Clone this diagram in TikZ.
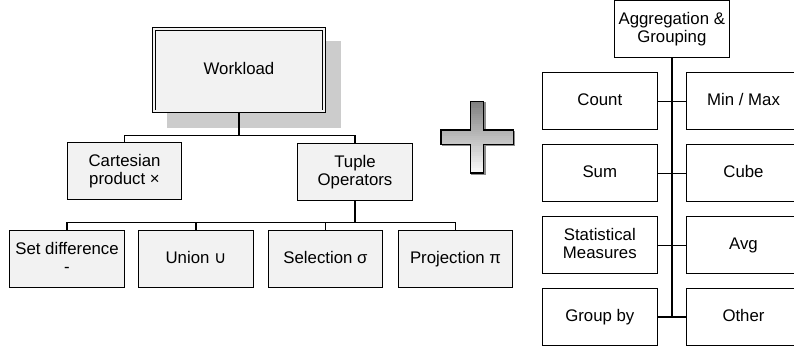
\documentclass[tikz,border=0pt]{standalone}
\usepackage{fontspec}
\setmainfont{Liberation Sans}
\newfontfamily\symfont{DejaVu Sans}

\tikzset{
  opbox/.style={draw, line width=0.9pt, fill=gray!10, minimum width=114.6pt,
    minimum height=56.8pt, align=center, inner sep=2pt, text depth=3.5pt},
  aggbox/.style={draw, line width=0.9pt, fill=white, minimum width=114.6pt,
    minimum height=56.8pt, align=center, inner sep=2pt, text depth=3.5pt},
  bus/.style={line width=1.1pt},
  trunk/.style={line width=1.8pt},
}
\def\pluspath{(470.3,101.7) -- (483.7,101.7) -- (483.7,130) -- (513.3,130)
  -- (513.3,144.3) -- (483.7,144.3) -- (483.7,173) -- (470.3,173)
  -- (470.3,144.3) -- (441,144.3) -- (441,130) -- (470.3,130) -- cycle}

\begin{document}
\begin{tikzpicture}[x=1pt,y=-1pt,font=\fontsize{16.8}{17.5}\selectfont]
\useasboundingbox (0,0) rectangle (794,351);
\clip (0,0) rectangle (794,351);

% relational operators
\fill[black!20] (166.7,41) rectangle (340.7,128.3);
\node[opbox, double=gray!10, double distance=2pt, minimum width=169.6pt,
  minimum height=82.8pt] (workload) at (239,70) {Workload};

\node[opbox] (cartesian) at (124.5,171.3) {Cartesian\\product ×};
\node[opbox] (tuple) at (355,172) {Tuple\\Operators};

\node[opbox] (setdiff) at (67,259) {Set difference\\-};
\node[opbox] (union) at (196,259) {Union {\symfont ∪}};
\node[opbox] (selection) at (325.5,259) {Selection σ};
\node[opbox] (projection) at (455.5,259) {Projection π};

\coordinate (wbus) at (239,135.7);
\draw[trunk] (workload.south) -- (wbus);
\draw[bus] (cartesian.north) |- (wbus) -| (tuple.north);

\coordinate (tbus) at (355,222.7);
\draw[trunk] (tuple.south) -- (tbus);
\draw[bus] (setdiff.north) |- (tbus) -| (projection.north);
\draw[bus] (union.north) -- (union.north |- tbus);
\draw[bus] (selection.north) -- (selection.north |- tbus);

% plus sign, graded from dark at the top to white at the bottom
\draw[black!45, line width=1.3pt, shift={(1.3,1.3)}] \pluspath;
\foreach \i in {0,...,35} {
  \pgfmathsetmacro\tone{int(50-48*\i/35)}
  \fill[black!\tone] (470.3,{101.7+2*\i}) rectangle (483.7,{104.2+2*\i});
}
\foreach \i in {14,...,21} {
  \pgfmathsetmacro\tone{int(50-48*\i/35)}
  \fill[black!\tone] (441,{max(130,101.7+2*\i)}) rectangle (513.3,{min(144.3,104.2+2*\i)});
}
\draw[line width=1.3pt] \pluspath;

% aggregation
\node[aggbox] (aggr) at (671.8,29.3) {Aggregation \&\\Grouping};
\node[aggbox] (count) at (599.8,101.2) {Count};
\node[aggbox] (minmax) at (743.5,101.2) {Min / Max};
\node[aggbox] (sum) at (599.8,173.3) {Sum};
\node[aggbox] (cube) at (743.5,173.3) {Cube};
\node[aggbox] (stats) at (599.8,245.3) {Statistical\\Measures};
\node[aggbox] (avg) at (743.5,245.3) {Avg};
\node[aggbox] (groupby) at (599.8,317) {Group by};
\node[aggbox] (other) at (743.5,317) {Other};

\draw[trunk] (aggr.south) -- (aggr.south |- groupby.east);
\foreach \l/\r in {count/minmax,sum/cube,stats/avg,groupby/other}
  \draw[bus] (\l.east) -- (\r.west);

\end{tikzpicture}
\end{document}
